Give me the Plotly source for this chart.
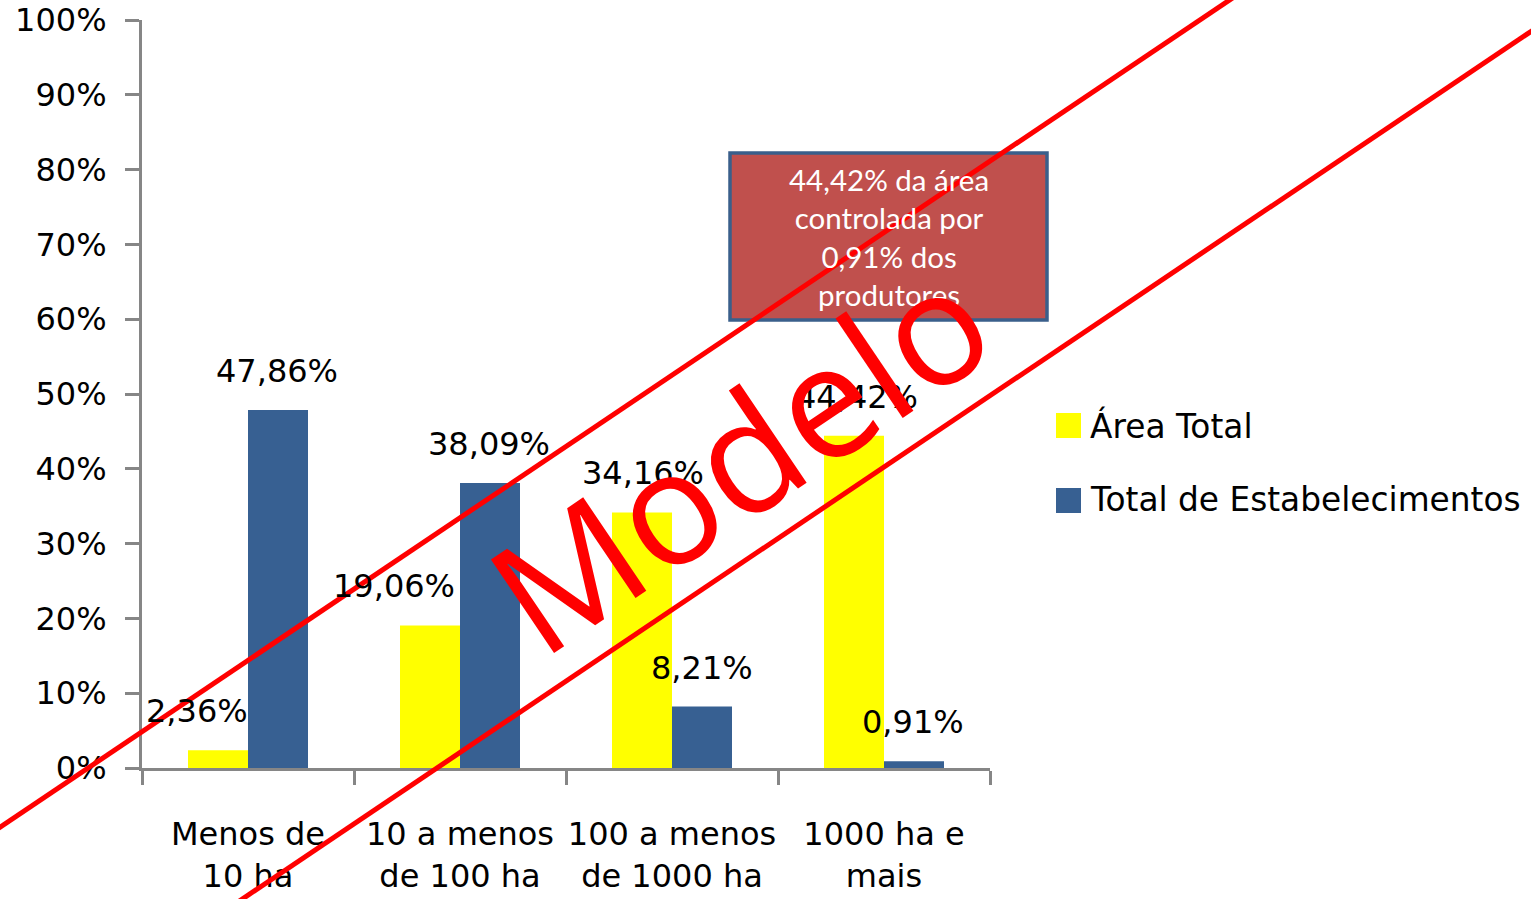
import plotly.graph_objects as go

# Farm-size classes and the share of total area / of establishments (%)
categories = ["Menos de<br>10 ha", "10 a menos<br>de 100 ha", "100 a menos<br>de 1000 ha", "1000 ha e<br>mais"]
area_total = [2.36, 19.06, 34.16, 44.42]
estabelecimentos = [47.86, 38.09, 8.21, 0.91]
series_names = ["Área Total", "Total de Estabelecimentos"]
series_colors = ["#FFFF00", "#376092"]
y_ticks = [0, 10, 20, 30, 40, 50, 60, 70, 80, 90, 100]
y_tick_labels = ["0%", "10%", "20%", "30%", "40%", "50%", "60%", "70%", "80%", "90%", "100%"]
callout_text = "44,42% da área<br>controlada por<br>0,91% dos<br>produtores"
watermark = "Modelo"

W, H = 1531, 899
L, R, T, B = 142, 990, 20, 768  # plot area in pixels


def px(x):
    return (x - L) / (R - L)


def py(y):
    return (B - y) / (B - T)


def fmt(v):
    return f"{v:.2f}".replace(".", ",") + "%"


fig = go.Figure()
for name, vals, col in zip(series_names, [area_total, estabelecimentos], series_colors):
    fig.add_trace(go.Bar(x=categories, y=vals, name=name, marker_color=col,
                         marker_line_width=0, showlegend=False))

# value labels above each bar (horizontal nudge in px)
nudges = [[-51, -66, -29, -27], [29, 29, 30, 29]]
annotations = []
for s, vals in enumerate([area_total, estabelecimentos]):
    for i, v in enumerate(vals):
        annotations.append(dict(x=categories[i], y=v, xref="x", yref="y", text=fmt(v),
                                showarrow=False, yanchor="bottom", xanchor="center",
                                xshift=nudges[s][i], yshift=18,
                                font=dict(family="DejaVu Sans", size=32, color="black")))

# legend drawn with larger swatches
shapes = []
legend_rows = [425.5, 500.5]
for name, col, yc in zip(series_names, series_colors, legend_rows):
    shapes.append(dict(type="rect", xref="paper", yref="paper",
                       x0=px(1056), x1=px(1081), y0=py(yc + 12.5), y1=py(yc - 12.5),
                       fillcolor=col, line_width=0, layer="above"))
    annotations.append(dict(x=px(1088), y=py(yc), xref="paper", yref="paper", text=name,
                            showarrow=False, xanchor="left", yanchor="middle",
                            font=dict(family="DejaVu Sans", size=32.8, color="black")))

# callout box
shapes.append(dict(type="rect", xref="paper", yref="paper",
                   x0=px(730), x1=px(1047), y0=py(320), y1=py(153),
                   fillcolor="#C0504D", line=dict(color="#3A5F8B", width=3.5), layer="above"))
annotations.append(dict(x=px(888.5), y=py(237), xref="paper", yref="paper", text=callout_text,
                        showarrow=False, xanchor="center", yanchor="middle",
                        font=dict(family="Lato", size=29.5, color="white")))

# diagonal watermark strokes
for (x0, y0, x1, y1) in [(-10, 834, 1240, -7), (232, 906, 1545, 22)]:
    shapes.append(dict(type="line", xref="paper", yref="paper",
                       x0=px(x0), y0=py(y0), x1=px(x1), y1=py(y1),
                       line=dict(color="#FF0000", width=5), layer="above"))

annotations.append(dict(x=px(737), y=py(455), xref="paper", yref="paper", text=watermark,
                        showarrow=False, textangle=-34, xanchor="center", yanchor="middle",
                        font=dict(family="Open Sans", size=158, color="#FF0000")))

axis_col = "#868686"
fig.update_layout(
    width=W, height=H, autosize=False,
    margin=dict(l=L, r=W - R, t=T, b=H - B, pad=0),
    paper_bgcolor="white", plot_bgcolor="white",
    barmode="group", bargap=0.434, bargroupgap=0,
    font=dict(family="DejaVu Sans", size=32, color="black"),
    shapes=shapes, annotations=annotations,
    xaxis=dict(showline=True, linecolor=axis_col, linewidth=3, ticks="outside",
               tickson="boundaries", ticklen=14, tickwidth=3, tickcolor=axis_col,
               showgrid=False, ticklabelstandoff=36, tickangle=0, automargin=False,
               tickfont=dict(family="DejaVu Sans", size=32, color="black")),
    yaxis=dict(range=[0, 100], tickmode="array", tickvals=y_ticks, ticktext=y_tick_labels,
               showline=True, automargin=False,
               linecolor=axis_col, linewidth=3, ticks="outside", ticklen=14, tickwidth=3,
               tickcolor=axis_col, showgrid=False, zeroline=False, ticklabelstandoff=12,
               tickfont=dict(family="DejaVu Sans", size=32, color="black")),
)

fig.write_html("out.html")
